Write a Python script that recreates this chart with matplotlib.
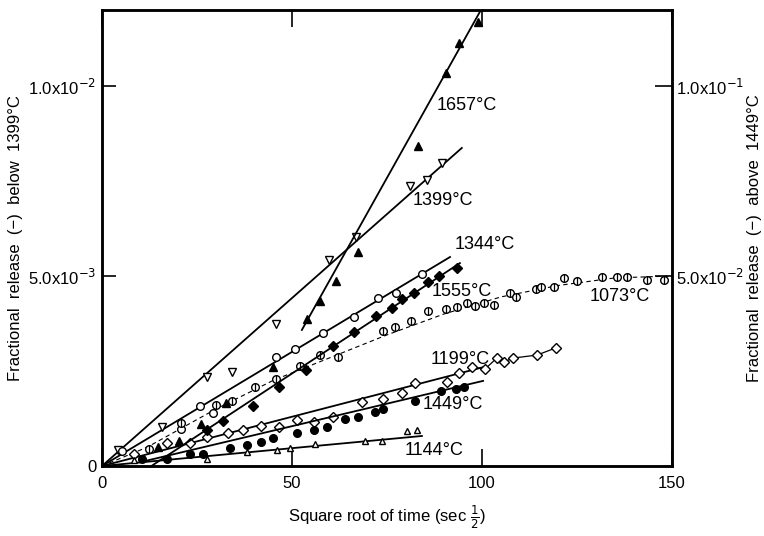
import matplotlib
matplotlib.use("Agg")
import matplotlib.pyplot as plt

plt.rcParams['font.family'] = ['Liberation Sans', 'DejaVu Sans']
plt.rcParams['mathtext.fontset'] = 'dejavusans'

# left axis series, y in units of 1e-3
x_1399 = [4.2, 15.8, 27.6, 34.2, 45.8, 59.7, 66.8, 81.1, 85.5, 89.5]
y_1399 = [0.42, 1.03, 2.34, 2.47, 3.74, 5.42, 6.03, 7.37, 7.53, 7.97]
fit_1399_x = [0, 94.7]
fit_1399_y = [0, 8.37]

x_1344 = [5.3, 20.8, 25.8, 29.2, 45.8, 50.8, 58.2, 66.3, 72.6, 77.4, 84.2]
y_1344 = [0.39, 0.97, 1.58, 1.39, 2.87, 3.08, 3.50, 3.92, 4.42, 4.55, 5.05]
fit_1344_x = [0, 91.6]
fit_1344_y = [0, 5.5]

x_1073 = [12.4, 20.8, 30.0, 34.2, 40.3, 45.8, 52.1, 57.4, 62.1, 73.9, 77.1, 81.3,
          85.8, 90.5, 93.4, 96.1, 98.2, 100.5, 103.2, 107.4, 108.9, 114.2, 115.5,
          118.9, 121.6, 125.0, 131.6, 135.5, 138.2, 143.4, 147.9]
y_1073 = [0.45, 1.13, 1.61, 1.71, 2.08, 2.29, 2.63, 2.92, 2.87, 3.55, 3.66, 3.82,
          4.08, 4.13, 4.18, 4.29, 4.21, 4.29, 4.24, 4.55, 4.45, 4.66, 4.71,
          4.71, 4.95, 4.87, 4.97, 4.97, 4.97, 4.89, 4.89]
fit_1073_x = [0, 12, 30, 45, 60, 75, 90, 105, 120, 135, 150]
fit_1073_y = [0, 0.5, 1.5, 2.25, 2.85, 3.45, 4.0, 4.45, 4.75, 4.95, 5.0]

x_1199 = [8.4, 17.1, 23.2, 27.6, 33.2, 37.1, 41.8, 46.6, 51.3, 55.8, 60.8, 68.4,
          73.9, 78.9, 82.4, 90.8, 93.9, 97.4, 100.8, 103.9, 105.8, 108.2, 114.5, 119.5]
y_1199 = [0.32, 0.61, 0.61, 0.76, 0.87, 0.95, 1.05, 1.03, 1.21, 1.16, 1.29, 1.68,
          1.76, 1.92, 2.18, 2.21, 2.45, 2.61, 2.55, 2.84, 2.74, 2.84, 2.92, 3.11]
fit_1199_x = [0, 100.3]
fit_1199_y = [0, 2.6]

x_1144 = [8.4, 27.6, 38.2, 46.1, 49.5, 56.1, 69.2, 73.7, 80.3, 82.9]
y_1144 = [0.16, 0.18, 0.37, 0.42, 0.47, 0.58, 0.66, 0.66, 0.92, 0.95]
fit_1144_x = [0, 84.2]
fit_1144_y = [0, 0.79]

# right axis series, y in units of 1e-2
x_1657 = [14.7, 20.3, 26.1, 32.6, 45.0, 53.9, 57.4, 61.6, 67.4, 83.2, 90.5, 93.9, 98.9]
y_1657 = [0.50, 0.66, 1.11, 1.66, 2.61, 3.87, 4.34, 4.87, 5.63, 8.42, 10.34, 11.13, 11.68]
fit_1657_x = [52.6, 100]
fit_1657_y = [3.58, 12.05]

x_1555 = [27.6, 31.8, 39.7, 46.6, 53.7, 60.8, 66.3, 72.1, 76.3, 78.9, 82.1, 85.8, 88.7, 93.4]
y_1555 = [0.95, 1.18, 1.58, 2.08, 2.53, 3.16, 3.53, 3.95, 4.16, 4.39, 4.55, 4.84, 5.00, 5.21]
fit_1555_x = [13, 94.2]
fit_1555_y = [0, 5.34]

x_1449 = [10.5, 17.1, 23.2, 26.6, 33.7, 38.2, 41.8, 45.0, 51.3, 55.8, 59.2, 63.9,
          67.4, 71.8, 73.9, 82.4, 89.2, 93.2, 95.3]
y_1449 = [0.18, 0.18, 0.32, 0.32, 0.47, 0.55, 0.63, 0.74, 0.87, 0.95, 1.03, 1.24,
          1.29, 1.42, 1.50, 1.71, 1.97, 2.03, 2.08]
fit_1449_x = [10, 100.3]
fit_1449_y = [0.1, 2.24]

fig = plt.figure(figsize=(7.64, 5.36), dpi=100)
ax = fig.add_axes([0.1335, 0.1306, 0.746, 0.8507])
ax2 = ax.twinx()

lw = 1.3
ms = 5.5
op = dict(color='black', mfc='white', mec='black', mew=1.0, ms=ms, ls='none', zorder=4)
fp = dict(color='black', mfc='black', mec='black', ms=ms, ls='none', zorder=4)

# left axis
ax.plot(fit_1399_x, fit_1399_y, 'k-', lw=lw)
ax.plot(x_1399, y_1399, marker='v', **op)
ax.plot(fit_1344_x, fit_1344_y, 'k-', lw=lw)
ax.plot(x_1344, y_1344, marker='o', **op)
ax.plot(fit_1073_x, fit_1073_y, color='black', lw=0.8, ls=(0, (4, 3)))
ax.plot(x_1073, y_1073, marker='o', **op)
ax.plot(x_1073, y_1073, marker='|', color='black', ms=ms, mew=0.9, ls='none', zorder=5)
ax.plot(fit_1199_x, fit_1199_y, 'k-', lw=lw)
ax.plot(x_1199[17:], y_1199[17:], 'k-', lw=0.9)
ax.plot(x_1199, y_1199, marker='D', **dict(op, ms=5))
ax.plot(fit_1144_x, fit_1144_y, 'k-', lw=lw)
ax.plot(x_1144, y_1144, marker='^', **dict(op, ms=5))

# right axis
ax2.plot(fit_1657_x, fit_1657_y, 'k-', lw=lw)
ax2.plot(x_1657, y_1657, marker='^', **fp)
ax2.plot(fit_1555_x, fit_1555_y, 'k-', lw=lw)
ax2.plot(x_1555, y_1555, marker='D', **dict(fp, ms=5))
ax2.plot(fit_1449_x, fit_1449_y, 'k-', lw=lw)
ax2.plot(x_1449, y_1449, marker='o', **fp)

ax.set_xlim(0, 150)
ax.set_ylim(0, 12)
ax2.set_ylim(0, 12)

fs = 12
ax.set_xticks([0, 50, 100, 150])
ax.set_xticklabels(['0', '50', '100', '150'], fontsize=fs)
ax.set_yticks([0, 5, 10])
ax.set_yticklabels(['0', r'5.0x10$^{-3}$', r'1.0x10$^{-2}$'], fontsize=fs)
ax2.set_yticks([5, 10])
ax2.set_yticklabels([r'5.0x10$^{-2}$', r'1.0x10$^{-1}$'], fontsize=fs)
ax.tick_params(axis='x', direction='in', length=12, width=1.2, top=True, pad=7)
ax.tick_params(axis='y', direction='in', length=10, width=1.2, pad=4)
ax2.tick_params(axis='y', direction='in', length=12, width=1.2, pad=3)

for a in (ax, ax2):
    for s in a.spines.values():
        s.set_linewidth(1.8)

ax.set_xlabel(r'Square root of time (sec $\frac{1}{2}$)', fontsize=fs, labelpad=9)
ax.set_ylabel('Fractional  release  (\u2212)  below  1399\u00b0C', fontsize=fs, labelpad=4)
ax2.set_ylabel('Fractional  release  (\u2212)  above  1449\u00b0C', fontsize=fs,
               rotation=90, labelpad=2)

tk = dict(fontsize=13, va='center', ha='left')
ax.text(88.2, 9.5, '1657\u00b0C', **tk)
ax.text(81.8, 7.0, '1399\u00b0C', **tk)
ax.text(92.9, 5.82, '1344\u00b0C', **tk)
ax.text(86.8, 4.58, '1555\u00b0C', **tk)
ax.text(128.4, 4.45, '1073\u00b0C', **tk)
ax.text(86.6, 2.79, '1199\u00b0C', **tk)
ax.text(84.5, 1.61, '1449\u00b0C', **tk)
ax.text(79.7, 0.42, '1144\u00b0C', **tk)

fig.savefig('out.png', dpi=100)
